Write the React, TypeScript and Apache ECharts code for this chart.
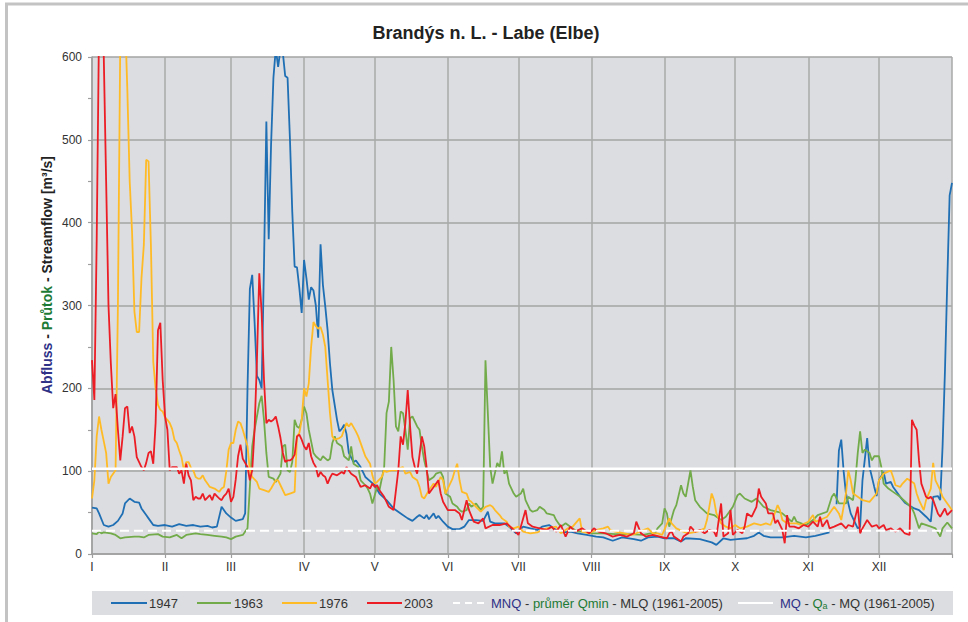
import React, { useEffect, useRef } from "react";
import * as echarts from "echarts";

// ---------- data (day-of-year index, discharge m3/s) ----------
const DAYS: string[] = Array.from({ length: 366 }, (_, i) => String(i));
const MONTH_STARTS = [0, 31, 59, 90, 120, 151, 181, 212, 243, 273, 304, 334];
const MONTH_LABELS = ["I", "II", "III", "IV", "V", "VI", "VII", "VIII", "IX", "X", "XI", "XII"];
const TICK_DAYS = [...MONTH_STARTS, 365];

const Q1947: [number, number | null][] = [
  [0,56],[2,55],[3,49],[5,35],[7,33],[9,35],[11,40],[13,49],[14,61],[16,67],[18,63],[20,62],[21,55],[23,47],[24,43],[26,35],[28,34],[31,35],[34,33],[37,36],[40,34],[43,35],[46,33],[49,34],[51,32],[53,33],[55,57],[57,49],[59,44],[61,40],[64,42],[65,49],
  [66,200],[67,320],[68,337],[69,280],[70,215],[71,210],[72,200],[73,350],[74,522],[75,380],[76,494],[77,575],[78,610],[79,588],[80,610],[81,605],[82,577],[83,575],[84,502],[85,413],[86,347],[87,346],[88,321],[89,291],[90,355],[91,333],[92,307],[93,322],[94,318],[95,300],[96,261],[97,374],[98,325],[99,299],[100,270],[101,230],[102,198],[104,162],[105,148],[106,151],[107,156],[108,145],[109,122],[111,111],[112,113],[114,105],[116,93],[118,88],[120,83],[122,73],[125,65],[128,55],[131,49],[134,43],[136,40],[138,45],[139,47],[141,43],[142,47],[143,42],[145,49],[146,43],[147,46],[149,39],[151,33],[153,30],[156,30],[158,33],[160,41],[163,41],[166,40],[168,51],[169,39],[171,37],[175,37],[177,33],[180,25],[183,33],[186,31],[189,29],[191,33],[194,35],[197,29],[200,26],[203,27],[206,25],[210,23],[214,21],[217,20],[221,16],[225,20],[230,18],[233,16],[236,20],[240,21],[243,19],[247,19],[250,15],[252,19],[258,18],[263,14],[265,11],[268,19],[271,17],[274,18],[278,19],[281,22],[283,26],[285,22],[288,20],[293,20],[298,22],[303,20],[307,22],[310,24],[313,26],[315,null],
  [316,60],[317,125],[318,138],[319,100],[320,73],[322,49],[324,37],[325,31],[326,33],[327,89],[329,140],[330,105],[332,81],[333,70],[334,89],[336,99],[337,85],[339,87],[340,81],[343,69],[345,62],[349,55],[351,53],[354,45],[356,39],[357,69],[359,70],[360,65],[361,130],[362,220],[363,330],[364,433],[365,448],
];

const Q1963: [number, number][] = [
  [0,25],[2,24],[3,27],[4,25],[5,26],[8,25],[10,23],[12,19],[14,20],[18,21],[20,21],[22,20],[24,23],[28,24],[30,21],[33,20],[36,23],[38,19],[40,23],[44,25],[46,24],[49,23],[52,22],[55,21],[57,20],[59,18],[61,21],[64,23],[66,31],[67,81],[68,130],[69,150],[71,182],[72,191],[73,162],[74,122],[75,93],[77,91],[78,87],[80,97],[81,130],[82,132],[83,101],[84,99],[85,111],[86,162],[87,154],[88,152],[89,162],[90,178],[91,170],[92,150],[94,122],[95,118],[97,113],[98,118],[100,113],[101,115],[102,134],[103,142],[104,134],[106,130],[107,118],[109,113],[110,130],[111,109],[113,105],[114,89],[116,83],[117,79],[118,73],[119,61],[121,81],[122,77],[124,105],[125,170],[126,184],[127,250],[128,210],[129,154],[130,148],[131,172],[132,170],[133,150],[134,126],[135,164],[136,166],[138,154],[139,150],[140,130],[141,113],[143,89],[145,93],[146,97],[148,99],[149,93],[150,73],[152,69],[153,61],[155,57],[156,53],[157,51],[159,53],[160,61],[161,57],[163,61],[165,53],[166,57],[167,234],[168,170],[169,105],[170,85],[172,110],[173,105],[174,124],[175,97],[176,101],[177,85],[179,73],[180,69],[182,73],[183,79],[184,65],[186,53],[187,51],[189,53],[190,57],[192,53],[193,49],[196,47],[197,41],[199,33],[201,37],[203,33],[206,27],[209,27],[212,25],[217,25],[222,24],[228,24],[234,23],[237,25],[239,25],[240,31],[242,37],[243,55],[244,49],[245,33],[247,53],[248,59],[250,83],[251,73],[252,69],[253,85],[254,101],[255,81],[256,65],[258,57],[261,49],[264,47],[267,41],[269,45],[272,57],[274,71],[275,73],[277,67],[280,63],[282,67],[285,57],[288,53],[291,51],[293,49],[297,39],[298,45],[299,39],[301,37],[303,35],[306,41],[308,47],[312,51],[314,69],[315,73],[317,61],[320,61],[321,69],[323,65],[324,89],[325,122],[326,148],[327,122],[328,126],[330,122],[331,113],[332,118],[334,118],[335,105],[336,85],[338,79],[340,75],[343,69],[346,61],[348,55],[349,49],[351,31],[352,37],[356,33],[358,31],[360,21],[361,31],[363,38],[365,31],
];

const Q1976: [number, number][] = [
  [0,67],[1,89],[2,142],[3,166],[4,150],[6,122],[7,85],[8,93],[10,101],[11,300],[12,620],[13,700],[14,650],[15,560],[16,450],[17,389],[18,293],[19,268],[20,268],[21,333],[22,373],[23,476],[24,474],[25,373],[26,232],[27,200],[28,180],[29,174],[30,172],[31,165],[32,162],[33,158],[34,151],[35,138],[36,134],[37,125],[38,117],[39,101],[40,111],[41,111],[42,104],[43,101],[44,93],[45,91],[46,91],[47,95],[48,89],[49,85],[50,81],[52,79],[54,75],[55,79],[56,81],[57,100],[58,126],[59,134],[60,134],[61,150],[62,160],[63,158],[64,150],[65,140],[66,130],[67,101],[68,93],[70,87],[71,79],[73,77],[75,75],[76,79],[78,89],[79,89],[80,83],[82,71],[84,73],[86,75],[87,142],[88,146],[89,162],[90,200],[91,190],[92,206],[93,250],[94,280],[95,275],[96,272],[97,274],[98,265],[99,250],[100,210],[101,170],[102,142],[103,138],[105,140],[106,142],[107,150],[108,158],[109,154],[110,158],[112,148],[113,142],[115,126],[116,118],[118,109],[119,95],[120,85],[121,87],[123,93],[124,101],[125,99],[127,101],[129,101],[130,103],[132,105],[133,97],[135,99],[136,93],[138,89],[139,81],[140,69],[141,67],[143,77],[145,85],[146,81],[148,93],[149,89],[150,73],[152,85],[153,91],[154,101],[155,109],[156,89],[157,75],[159,73],[160,65],[161,63],[163,57],[165,51],[167,57],[169,59],[170,57],[171,53],[173,47],[174,43],[176,39],[177,33],[179,31],[181,33],[183,27],[186,25],[189,26],[191,29],[193,31],[197,33],[199,25],[202,31],[204,33],[207,43],[208,27],[211,25],[214,29],[217,31],[219,33],[220,29],[222,27],[226,25],[229,23],[231,25],[234,29],[236,31],[238,25],[240,25],[242,23],[245,43],[246,37],[248,31],[251,27],[253,25],[257,27],[260,31],[261,41],[263,73],[264,65],[265,49],[267,37],[269,33],[271,31],[273,35],[275,31],[278,33],[281,37],[284,35],[286,37],[288,35],[291,59],[292,53],[293,41],[295,37],[299,37],[301,35],[304,39],[306,47],[307,39],[309,41],[312,45],[314,53],[315,57],[317,49],[318,41],[320,73],[321,101],[322,89],[323,73],[325,69],[327,65],[330,63],[333,73],[334,89],[336,97],[339,101],[340,93],[341,83],[343,81],[344,85],[346,91],[347,89],[349,85],[350,73],[351,65],[353,53],[354,65],[356,79],[357,110],[358,89],[360,77],[361,69],[363,61],[365,53],
];

const Q2003: [number, number][] = [
  [0,234],[1,186],[2,380],[3,640],[4,700],[5,600],[6,450],[7,300],[8,230],[9,176],[10,193],[11,150],[12,113],[13,142],[14,176],[15,178],[16,146],[17,154],[18,142],[19,117],[20,111],[21,105],[22,101],[23,110],[24,122],[25,124],[26,109],[27,158],[28,270],[29,279],[30,210],[31,166],[32,150],[33,101],[34,105],[35,105],[36,105],[37,97],[38,101],[39,85],[40,109],[41,95],[42,89],[43,65],[44,69],[45,67],[46,67],[47,73],[48,65],[49,68],[50,71],[51,65],[52,73],[53,70],[54,67],[55,65],[56,70],[57,73],[58,79],[59,63],[60,69],[61,90],[62,118],[63,132],[64,115],[65,110],[66,105],[67,89],[68,101],[69,150],[70,234],[71,339],[72,291],[73,210],[74,158],[75,162],[76,160],[77,162],[78,166],[79,154],[80,140],[81,122],[82,111],[83,113],[84,113],[85,115],[86,120],[87,142],[88,144],[89,138],[90,130],[91,126],[92,134],[93,118],[94,110],[95,105],[96,93],[97,99],[98,95],[99,93],[100,85],[101,92],[102,97],[104,95],[106,99],[107,97],[108,105],[110,97],[112,93],[114,81],[116,83],[118,79],[119,85],[120,81],[121,83],[122,77],[124,69],[126,57],[128,53],[130,101],[131,142],[132,132],[133,158],[134,198],[135,154],[136,117],[137,105],[138,97],[140,142],[141,130],[142,105],[143,73],[145,81],[147,89],[148,73],[149,63],[151,53],[154,53],[156,49],[157,41],[159,65],[160,53],[162,39],[164,37],[166,43],[167,31],[170,35],[173,35],[176,37],[179,29],[181,23],[182,33],[184,53],[185,37],[187,33],[190,31],[193,29],[195,33],[197,27],[199,35],[201,21],[203,33],[205,27],[208,31],[211,25],[213,31],[215,27],[218,25],[221,21],[224,23],[227,21],[230,25],[231,39],[233,25],[235,21],[238,23],[241,21],[244,19],[245,25],[246,27],[247,21],[250,15],[251,21],[253,25],[254,33],[256,27],[258,29],[260,25],[262,29],[264,27],[265,21],[267,61],[268,21],[270,25],[271,53],[272,23],[274,29],[276,25],[277,33],[278,49],[280,45],[282,57],[283,79],[284,69],[286,61],[287,49],[289,49],[290,37],[291,41],[293,29],[294,13],[295,47],[296,33],[298,33],[300,31],[302,35],[304,33],[306,39],[308,33],[309,45],[310,33],[312,41],[313,31],[315,33],[318,37],[320,31],[321,35],[323,33],[325,57],[326,25],[327,31],[329,41],[331,33],[333,35],[334,31],[336,35],[337,29],[339,31],[341,27],[343,31],[345,25],[347,23],[348,162],[349,155],[350,150],[351,113],[352,85],[354,69],[355,67],[356,69],[357,65],[359,49],[360,45],[362,55],[363,47],[365,53],
];

const MNQ_VALUE = 28;  // MLQ (1961-2005)
const MQ_VALUE = 103;  // MQ (1961-2005)

const FONT = "'Liberation Sans', Arial, sans-serif";
const NAVY = "#2f3187";
const GREEN = "#1d7a35";

export default function App() {
  const ref = useRef<HTMLDivElement>(null);

  useEffect(() => {
    if (!ref.current) return;
    const chart = echarts.init(ref.current, undefined, { renderer: "svg" });

    const lineSeries = (name: string, data: any[], color: string) => ({
      name,
      type: "line",
      data,
      symbol: "none",
      showSymbol: false,
      clip: true,
      lineStyle: { color, width: 1.8 },
      itemStyle: { color },
    });

    const legendY = 603;
    const leg = (x1: number, x2: number, color: string, dash?: number[]) => ({
      type: "line",
      shape: { x1, y1: legendY, x2, y2: legendY },
      style: { stroke: color, lineWidth: 2, lineDash: dash || null },
      silent: true,
    });
    const legText = (x: number, text: string, rich?: any) => ({
      type: "text",
      x,
      y: legendY,
      style: {
        text,
        fill: "#333",
        fontSize: 13,
        fontFamily: FONT,
        verticalAlign: "middle",
        align: "left",
        rich,
      },
      silent: true,
    });

    const richBase = { fontSize: 13, fontFamily: FONT };

    chart.setOption({
      animation: false,
      grid: {
        left: 92,
        right: 16,
        top: 57,
        bottom: 68,
        show: true,
        backgroundColor: "#dcdde0",
        borderWidth: 0,
      },
      xAxis: {
        type: "category",
        data: DAYS,
        boundaryGap: false,
        axisLine: { show: true, lineStyle: { color: "#9e9e9e", width: 1.5 } },
        axisTick: {
          show: true,
          interval: (i: number) => TICK_DAYS.includes(i),
          length: 4,
          lineStyle: { color: "#9e9e9e", width: 1.2 },
        },
        axisLabel: {
          interval: (i: number) => MONTH_STARTS.includes(i),
          formatter: (v: string) => {
            const k = MONTH_STARTS.indexOf(Number(v));
            return k >= 0 ? MONTH_LABELS[k] : "";
          },
          margin: 7,
          fontSize: 12,
          fontFamily: FONT,
          color: "#333",
        },
        splitLine: {
          show: true,
          interval: (i: number) => TICK_DAYS.includes(i),
          lineStyle: { color: "#a8a8a8", width: 1.5 },
        },
      },
      yAxis: {
        type: "value",
        min: 0,
        max: 600,
        interval: 100,
        axisLine: { show: true, lineStyle: { color: "#9e9e9e", width: 1.5 } },
        axisTick: { show: true, length: 4, lineStyle: { color: "#9e9e9e", width: 1.2 } },
        minorTick: { show: true, splitNumber: 2, length: 4, lineStyle: { color: "#9e9e9e", width: 1.2 } },
        axisLabel: { margin: 10, fontSize: 12, fontFamily: FONT, color: "#333" },
        splitLine: { show: true, lineStyle: { color: "#a3a3a3", width: 1.5 } },
      },
      series: [
        lineSeries("1947", Q1947, "#1f6fb4"),
        lineSeries("1963", Q1963, "#72ab4a"),
        lineSeries("1976", Q1976, "#ffbb26"),
        lineSeries("2003", Q2003, "#ec1d25"),
        {
          name: "MNQ",
          type: "line",
          data: [[0, MNQ_VALUE], [365, MNQ_VALUE]],
          symbol: "none",
          lineStyle: { color: "#ffffff", width: 2, type: [9, 5] },
        },
        {
          name: "MQ",
          type: "line",
          data: [[0, MQ_VALUE], [365, MQ_VALUE]],
          symbol: "none",
          lineStyle: { color: "#ffffff", width: 2.5 },
        },
      ],
      graphic: {
        elements: [
          // outer chart border
          {
            type: "polyline",
            shape: { points: [[6.5, 640], [6.5, 4], [980, 4]] },
            style: { stroke: "#c3c3c3", lineWidth: 3, fill: null },
            silent: true,
          },
          // title
          {
            type: "text",
            x: 486,
            y: 33,
            style: {
              text: "Brandýs n. L. - Labe (Elbe)",
              fill: "#222",
              fontSize: 18,
              fontWeight: "bold",
              fontFamily: FONT,
              align: "center",
              verticalAlign: "middle",
            },
            silent: true,
          },
          // y axis name
          {
            type: "text",
            x: 47,
            y: 275,
            rotation: Math.PI / 2,
            style: {
              text: "{a|Abfluss} - {b|Průtok} - {c|Streamflow [m³/s]}",
              fill: "#222",
              fontSize: 14,
              fontWeight: "bold",
              fontFamily: FONT,
              align: "center",
              verticalAlign: "middle",
              rich: {
                a: { fill: NAVY, fontSize: 14, fontWeight: "bold", fontFamily: FONT },
                b: { fill: GREEN, fontSize: 14, fontWeight: "bold", fontFamily: FONT },
                c: { fill: "#222", fontSize: 14, fontWeight: "bold", fontFamily: FONT },
              },
            },
            silent: true,
          },
          // legend box
          {
            type: "rect",
            shape: { x: 92, y: 591, width: 861, height: 24 },
            style: { fill: "#dcdde0" },
            silent: true,
          },
          leg(111, 147, "#1f6fb4"),
          legText(149, "1947"),
          leg(197, 231, "#72ab4a"),
          legText(234, "1963"),
          leg(282, 317, "#ffbb26"),
          legText(319, "1976"),
          leg(367, 402, "#ec1d25"),
          legText(404, "2003"),
          leg(453, 488, "#ffffff", [7, 5]),
          legText(491, "{n|MNQ} - {g|průměr Qmin} - MLQ (1961-2005)", {
            n: { ...richBase, fill: NAVY },
            g: { ...richBase, fill: GREEN },
          }),
          leg(738, 773, "#ffffff"),
          legText(780, "{n|MQ} - {g|Q}{s|a} - MQ (1961-2005)", {
            n: { ...richBase, fill: NAVY },
            g: { ...richBase, fill: GREEN },
            s: { fontSize: 9, fontFamily: FONT, fill: GREEN, padding: [6, 0, 0, 0] },
          }),
        ],
      },
    });

    return () => chart.dispose();
  }, []);

  return (
    <div
      ref={ref}
      style={{ position: "fixed", left: 0, top: 0, width: 968, height: 622, background: "#fff" }}
    />
  );
}
